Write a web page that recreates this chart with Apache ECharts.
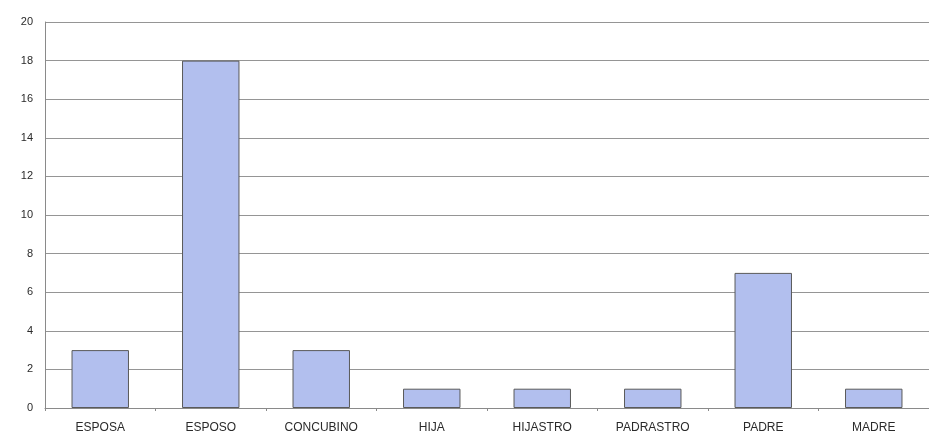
<!DOCTYPE html>
<html>
<head>
<meta charset="utf-8">
<script src="https://cdn.jsdelivr.net/npm/echarts@6/dist/echarts.min.js"></script>
<style>html,body{margin:0;padding:0;background:#fff}#c{width:929px;height:435px}</style>
</head>
<body>
<div id="c"></div>
<script>
const categories = ["ESPOSA","ESPOSO","CONCUBINO","HIJA","HIJASTRO","PADRASTRO","PADRE","MADRE"];
const values = [3, 18, 3, 1, 1, 1, 7, 1];
const yTicks = [0,2,4,6,8,10,12,14,16,18,20];

const chart = echarts.init(document.getElementById('c'));
chart.setOption({
  animation: false,
  backgroundColor: '#ffffff',
  grid: { left: 45, right: 0, top: 22, bottom: 27, containLabel: false },
  xAxis: {
    type: 'category',
    data: categories,
    axisLine: { show: true, lineStyle: { color: '#8a8a8a', width: 1 } },
    axisTick: { show: true, length: 3, lineStyle: { color: '#8a8a8a' } },
    axisLabel: { color: '#2a2a2a', fontSize: 12, fontFamily: 'Liberation Sans, Arial, sans-serif', margin: 14 }
  },
  yAxis: {
    type: 'value',
    min: 0, max: 20, interval: 2,
    axisLine: { show: true, lineStyle: { color: '#8a8a8a', width: 1 } },
    axisTick: { show: false },
    splitLine: { show: true, lineStyle: { color: '#959595', width: 1 } },
    axisLabel: {
      color: '#2a2a2a', fontSize: 11, fontFamily: 'Liberation Sans, Arial, sans-serif', margin: 12,
      formatter: function (v) { return yTicks.indexOf(v) >= 0 ? String(v) : ''; }
    }
  },
  series: [{
    type: 'bar',
    data: values,
    barWidth: '52%',
    itemStyle: { color: '#b2bfee', borderColor: '#5a5a5a', borderWidth: 1 }
  }]
});
</script>
</body>
</html>
